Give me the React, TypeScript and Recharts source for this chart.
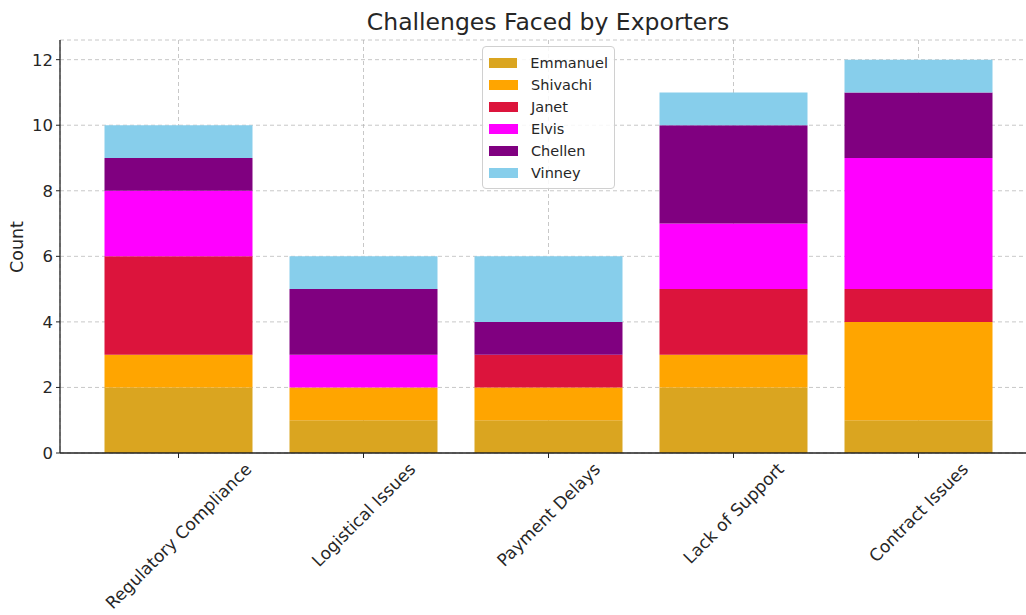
import React from 'react';
import { BarChart, Bar, XAxis, YAxis, CartesianGrid } from 'recharts';

const categories = ['Regulatory Compliance', 'Logistical Issues', 'Payment Delays', 'Lack of Support', 'Contract Issues'];
const people = ['Emmanuel', 'Shivachi', 'Janet', 'Elvis', 'Chellen', 'Vinney'];
const colors = ['#DAA520', '#FFA500', '#DC143C', '#FF00FF', '#800080', '#87CEEB'];
const emmanuel = [2, 1, 1, 2, 1];
const shivachi = [1, 1, 1, 1, 3];
const janet = [3, 0, 1, 2, 1];
const elvis = [2, 1, 0, 2, 4];
const chellen = [1, 2, 1, 3, 2];
const vinney = [1, 1, 2, 1, 1];
const yTicks = [0, 2, 4, 6, 8, 10, 12];

const series = [emmanuel, shivachi, janet, elvis, chellen, vinney];
const data = categories.map((c, i) => {
  const row: any = { name: c };
  people.forEach((p, j) => { row[p] = series[j][i]; });
  return row;
});

const FONT = '"DejaVu Sans", Verdana, sans-serif';
const TEXT = '#262626';

let ctx: CanvasRenderingContext2D | null = null;
function measure(t: string, size: number) {
  if (!ctx) ctx = document.createElement('canvas').getContext('2d');
  if (!ctx) return t.length * size * 0.6;
  ctx.font = `${size}px "DejaVu Sans"`;
  return ctx.measureText(t).width;
}

function XTick(props: any) {
  const { x, y, payload } = props;
  const fs = 17;
  const w = measure(String(payload.value), fs);
  const half = ((w + fs) * Math.SQRT1_2) / 2;
  const cy = y + 2 + half;
  return (
    <text
      x={x}
      y={cy}
      textAnchor="middle"
      dominantBaseline="central"
      transform={`rotate(-45 ${x} ${cy})`}
      fontSize={fs}
      fontFamily={FONT}
      fill={TEXT}
    >
      {payload.value}
    </text>
  );
}

function LegendBox() {
  return (
    <div
      style={{
        position: 'absolute', left: 482, top: 46,
        border: '1px solid #d0d0d0',
        borderRadius: 4,
        background: 'rgba(255,255,255,0.85)',
        padding: '5px 6px 4px 6px',
        width: 119,
        fontFamily: FONT,
        fontSize: 14.5,
        color: TEXT,
        boxSizing: 'content-box',
      }}
    >
      {people.map((p, i) => (
        <div key={p} style={{ display: 'flex', alignItems: 'center', height: 22 }}>
          <div style={{ width: 29, height: 10, background: colors[i], marginRight: 13 }} />
          <span>{p}</span>
        </div>
      ))}
    </div>
  );
}

export default function App() {
  return (
    <div style={{ position: 'fixed', left: 0, top: 0, width: 1026, height: 615, overflow: 'hidden', background: '#fff' }}>
      <div
        style={{
          position: 'absolute', left: 60, width: 976, top: 8, textAlign: 'center',
          fontFamily: FONT, fontSize: 23.5, color: TEXT, lineHeight: '28px',
        }}
      >
        Challenges Faced by Exporters
      </div>
      <div
        style={{
          position: 'absolute', left: 17, top: 247, transform: 'translate(-50%, -50%) rotate(-90deg)',
          fontFamily: FONT, fontSize: 17.5, color: TEXT, whiteSpace: 'nowrap',
        }}
      >
        Count
      </div>
      <BarChart
        width={1040}
        height={615}
        data={data}
        margin={{ top: 40, right: 3, bottom: 0, left: 0 }}
        barCategoryGap="10%"
        style={{ position: 'absolute', left: 0, top: 0 }}
      >
        {people.map((p, i) => (
          <Bar key={p} dataKey={p} stackId="a" fill={colors[i]} isAnimationActive={false} />
        ))}
        <CartesianGrid stroke="#b0b0b0" strokeOpacity={0.7} strokeDasharray="4 3" />
        <XAxis
          dataKey="name"
          height={162}
          padding={{ left: 26, right: 26 }}
          tickSize={5}
          tickMargin={0}
          tickLine={{ stroke: '#222' }}
          axisLine={{ stroke: '#222', strokeWidth: 1.3 }}
          tick={<XTick />}
          interval={0}
        />
        <YAxis
          width={60}
          domain={[0, 12.6]}
          ticks={yTicks}
          tickSize={4}
          tickMargin={3}
          tickLine={{ stroke: '#222' }}
          axisLine={{ stroke: '#222', strokeWidth: 1.3 }}
          tick={{ fontSize: 16.5, fontFamily: FONT, fill: TEXT }}
          allowDataOverflow
        />
      </BarChart>
      <LegendBox />
    </div>
  );
}
